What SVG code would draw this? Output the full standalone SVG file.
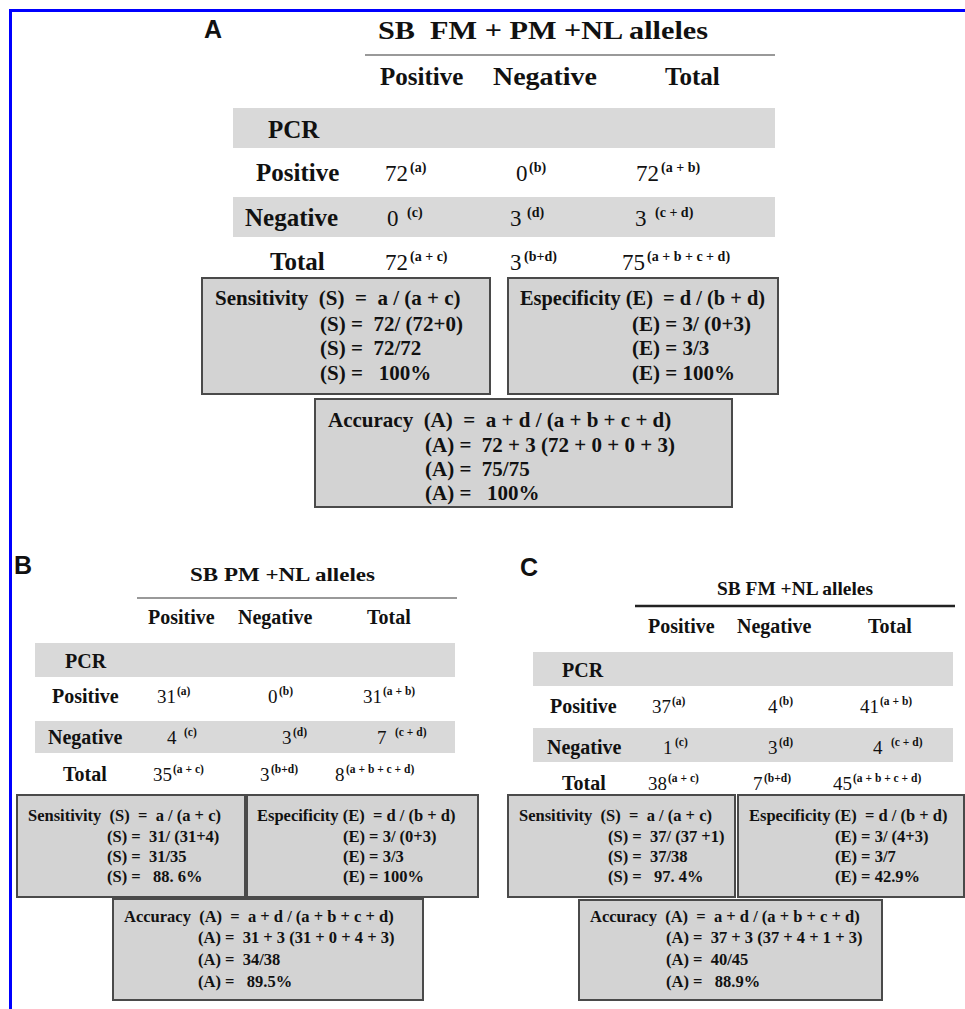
<svg xmlns="http://www.w3.org/2000/svg" width="965" height="1009" viewBox="0 0 965 1009" xml:space="preserve">
<style>
text{font-family:"Liberation Serif","Times New Roman",serif;fill:#111;white-space:pre}
.lbl{font-family:"Liberation Sans",Arial,sans-serif;font-weight:bold;font-size:25px}
.b{font-weight:bold}
.ta{font-size:25px;font-weight:bold}
.na{font-size:23px}
.sa{font-size:14px;font-weight:bold}
.ba{font-size:21px;font-weight:bold}
.tb{font-size:20px;font-weight:bold}
.nb{font-size:19px}
.sb{font-size:11.5px;font-weight:bold}
.bb{font-size:16.5px;font-weight:bold}
.band{fill:#d9d9d9}
.box{fill:#d3d3d3;stroke:#4a4a4a;stroke-width:2}
.rule{stroke:#999;stroke-width:2}
</style>
<rect width="965" height="1009" fill="#fff"/>
<g id="frame" stroke="#0000ff" stroke-width="3" fill="none">
<line x1="9" y1="10.5" x2="965" y2="10.5"/>
<line x1="10.5" y1="9" x2="10.5" y2="1009"/>
</g>
<g id="connectors"></g>

<!-- Panel A -->
<g id="panelA">
<text class="lbl" x="204" y="38" font-size="26">A</text>
<text class="b" x="378" y="39" font-size="25" textLength="330" lengthAdjust="spacingAndGlyphs">SB  FM + PM +NL alleles</text>
<line class="rule" x1="365" y1="55" x2="775" y2="55"/>
<text class="ta" x="380" y="85">Positive</text>
<text class="ta" x="493" y="85" textLength="104" lengthAdjust="spacingAndGlyphs">Negative</text>
<text class="ta" x="665" y="85">Total</text>
<rect class="band" x="233" y="108" width="542" height="40"/>
<rect class="band" x="233" y="197" width="542" height="40"/>
<text class="ta" x="268" y="138">PCR</text>
<text class="ta" x="256" y="181">Positive</text>
<text class="ta" x="245" y="226">Negative</text>
<text class="ta" x="270" y="270">Total</text>
<text class="na" x="385" y="181">72</text><text class="sa" x="410" y="172">(a)</text>
<text class="na" x="516" y="181">0</text><text class="sa" x="529" y="172">(b)</text>
<text class="na" x="636" y="181">72</text><text class="sa" x="661" y="172">(a + b)</text>
<text class="na" x="387" y="226">0</text><text class="sa" x="407" y="217">(c)</text>
<text class="na" x="510" y="226">3</text><text class="sa" x="527" y="217">(d)</text>
<text class="na" x="635" y="226">3</text><text class="sa" x="655" y="217">(c + d)</text>
<text class="na" x="385" y="270">72</text><text class="sa" x="410" y="261">(a + c)</text>
<text class="na" x="510" y="270">3</text><text class="sa" x="524" y="261">(b+d)</text>
<text class="na" x="622" y="270">75</text><text class="sa" x="647" y="261">(a + b + c + d)</text>
</g>
<g id="A-sensitivity">
<rect class="box" x="202" y="278" width="288" height="116"/>
<text class="ba" x="215" y="305">Sensitivity  (S)  =  a / (a + c)</text>
<text class="ba" x="320" y="331">(S) =  72/ (72+0)</text>
<text class="ba" x="320" y="355">(S) =  72/72</text>
<text class="ba" x="320" y="380">(S) =   100%</text>
</g>
<g id="A-especificity">
<rect class="box" x="508" y="278" width="270" height="116"/>
<text class="ba" x="520" y="305" textLength="245" lengthAdjust="spacingAndGlyphs">Especificity (E)  = d / (b + d)</text>
<text class="ba" x="632" y="331">(E) = 3/ (0+3)</text>
<text class="ba" x="632" y="355">(E) = 3/3</text>
<text class="ba" x="632" y="380">(E) = 100%</text>
</g>
<g id="A-accuracy">
<rect class="box" x="315" y="399" width="417" height="108"/>
<text class="ba" x="328" y="427">Accuracy  (A)  =  a + d / (a + b + c + d)</text>
<text class="ba" x="425" y="452">(A) =  72 + 3 (72 + 0 + 0 + 3)</text>
<text class="ba" x="425" y="476">(A) =  75/75</text>
<text class="ba" x="425" y="500">(A) =   100%</text>
</g>

<!-- Panel B -->
<g id="panelB">
<text class="lbl" x="14" y="574" font-size="24">B</text>
<text class="b" x="190" y="581" font-size="19" textLength="185" lengthAdjust="spacingAndGlyphs">SB PM +NL alleles</text>
<line class="rule" x1="137" y1="598" x2="457" y2="598"/>
<text class="tb" x="148" y="624">Positive</text>
<text class="tb" x="238" y="624">Negative</text>
<text class="tb" x="367" y="624">Total</text>
<rect class="band" x="35" y="643" width="420" height="34"/>
<rect class="band" x="35" y="721" width="420" height="32"/>
<text class="tb" x="65" y="668">PCR</text>
<text class="tb" x="52" y="703">Positive</text>
<text class="tb" x="48" y="744">Negative</text>
<text class="tb" x="63" y="781">Total</text>
<text class="nb" x="157" y="703">31</text><text class="sb" x="177" y="695">(a)</text>
<text class="nb" x="268" y="703">0</text><text class="sb" x="279" y="695">(b)</text>
<text class="nb" x="363" y="703">31</text><text class="sb" x="383" y="695">(a + b)</text>
<text class="nb" x="167" y="744">4</text><text class="sb" x="184" y="736">(c)</text>
<text class="nb" x="282" y="744">3</text><text class="sb" x="293" y="736">(d)</text>
<text class="nb" x="377" y="744">7</text><text class="sb" x="395" y="736">(c + d)</text>
<text class="nb" x="153" y="781">35</text><text class="sb" x="173" y="773">(a + c)</text>
<text class="nb" x="260" y="781">3</text><text class="sb" x="271" y="773">(b+d)</text>
<text class="nb" x="335" y="781">8</text><text class="sb" x="346" y="773">(a + b + c + d)</text>
</g>
<g id="B-sensitivity">
<rect class="box" x="17" y="795" width="228" height="102"/>
<text class="bb" x="28" y="821">Sensitivity  (S)  =  a / (a + c)</text>
<text class="bb" x="107" y="842">(S) =  31/ (31+4)</text>
<text class="bb" x="107" y="862">(S) =  31/35</text>
<text class="bb" x="107" y="882">(S) =   88. 6%</text>
</g>
<g id="B-especificity">
<rect class="box" x="247" y="795" width="231" height="102"/>
<text class="bb" x="257" y="821">Especificity (E)  = d / (b + d)</text>
<text class="bb" x="343" y="842">(E) = 3/ (0+3)</text>
<text class="bb" x="343" y="862">(E) = 3/3</text>
<text class="bb" x="343" y="882">(E) = 100%</text>
</g>
<g id="B-accuracy">
<rect class="box" x="113" y="899" width="310" height="101"/>
<text class="bb" x="124" y="922">Accuracy  (A)  =  a + d / (a + b + c + d)</text>
<text class="bb" x="198" y="943">(A) =  31 + 3 (31 + 0 + 4 + 3)</text>
<text class="bb" x="198" y="965">(A) =  34/38</text>
<text class="bb" x="198" y="987">(A) =   89.5%</text>
</g>

<!-- Panel C -->
<g id="panelC">
<text class="lbl" x="520" y="576" font-size="24">C</text>
<text class="b" x="717" y="595" font-size="19" textLength="156" lengthAdjust="spacingAndGlyphs">SB FM +NL alleles</text>
<line x1="635" y1="606" x2="955" y2="606" stroke="#222" stroke-width="2.5"/>
<text class="tb" x="648" y="633">Positive</text>
<text class="tb" x="737" y="633">Negative</text>
<text class="tb" x="868" y="633">Total</text>
<rect class="band" x="533" y="652" width="420" height="34"/>
<rect class="band" x="533" y="728" width="420" height="34"/>
<text class="tb" x="562" y="677">PCR</text>
<text class="tb" x="550" y="713">Positive</text>
<text class="tb" x="547" y="754">Negative</text>
<text class="tb" x="562" y="790">Total</text>
<text class="nb" x="652" y="713">37</text><text class="sb" x="672" y="705">(a)</text>
<text class="nb" x="768" y="713">4</text><text class="sb" x="779" y="705">(b)</text>
<text class="nb" x="860" y="713">41</text><text class="sb" x="880" y="705">(a + b)</text>
<text class="nb" x="663" y="754">1</text><text class="sb" x="675" y="746">(c)</text>
<text class="nb" x="768" y="754">3</text><text class="sb" x="779" y="746">(d)</text>
<text class="nb" x="873" y="754">4</text><text class="sb" x="891" y="746">(c + d)</text>
<text class="nb" x="648" y="790">38</text><text class="sb" x="668" y="782">(a + c)</text>
<text class="nb" x="753" y="790">7</text><text class="sb" x="764" y="782">(b+d)</text>
<text class="nb" x="833" y="790">45</text><text class="sb" x="853" y="782">(a + b + c + d)</text>
</g>
<g id="C-sensitivity">
<rect class="box" x="508" y="795" width="227" height="102"/>
<text class="bb" x="519" y="821">Sensitivity  (S)  =  a / (a + c)</text>
<text class="bb" x="608" y="842">(S) =  37/ (37 +1)</text>
<text class="bb" x="608" y="862">(S) =  37/38</text>
<text class="bb" x="608" y="882">(S) =   97. 4%</text>
</g>
<g id="C-especificity">
<rect class="box" x="738" y="795" width="226" height="102"/>
<text class="bb" x="749" y="821">Especificity (E)  = d / (b + d)</text>
<text class="bb" x="835" y="842">(E) = 3/ (4+3)</text>
<text class="bb" x="835" y="862">(E) = 3/7</text>
<text class="bb" x="835" y="882">(E) = 42.9%</text>
</g>
<g id="C-accuracy">
<rect class="box" x="579" y="900" width="303" height="100"/>
<text class="bb" x="590" y="922">Accuracy  (A)  =  a + d / (a + b + c + d)</text>
<text class="bb" x="666" y="943">(A) =  37 + 3 (37 + 4 + 1 + 3)</text>
<text class="bb" x="666" y="965">(A) =  40/45</text>
<text class="bb" x="666" y="987">(A) =   88.9%</text>
</g>
</svg>
